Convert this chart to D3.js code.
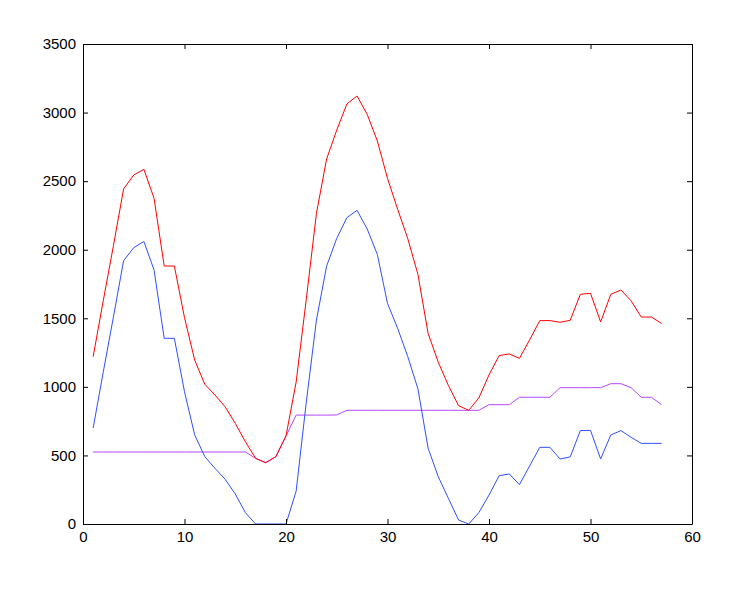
<!DOCTYPE html>
<html>
<head>
<meta charset="utf-8">
<script src="https://cdn.jsdelivr.net/npm/d3@7"></script>
<style>
  html, body { margin: 0; padding: 0; background: #fff; }
  svg { display: block; }
  .axis text { font-family: "Liberation Sans", Arial, sans-serif; font-size: 15px; fill: #000; }
  .axis path, .axis line { stroke: #000; }
</style>
</head>
<body>
<div id="chart"></div>
<script>
const xs = d3.range(1, 58);
const redValues = [1220,1630,2030,2443,2545,2586,2375,1881,1881,1505,
  1196,1019,941,855,734,600,479,447,491,642,
  1035,1640,2265,2661,2873,3063,3121,2987,2793,2520,
  2295,2080,1820,1390,1180,1010,863,829,919,1087,
  1228,1240,1208,1342,1483,1483,1471,1485,1675,1682,
  1473,1675,1706,1628,1509,1509,1463];
const blueValues = [700,1110,1510,1920,2015,2060,1852,1354,1354,965,
  650,491,406,326,219,83,0,0,0,0,
  240,890,1487,1880,2083,2234,2287,2151,1965,1609,
  1427,1220,985,553,345,187,29,0,83,211,
  352,365,287,423,559,559,474,489,681,683,
  474,649,681,632,588,588,588];
const purpleValues = [525,525,525,525,525,525,525,525,525,525,
  525,525,525,525,525,525,479,447,491,642,
  794,794,794,794,795,829,829,829,829,829,
  829,829,829,829,829,829,829,829,829,870,
  870,870,924,924,924,924,994,994,994,994,
  994,1023,1023,994,924,924,870];
const xTicks = [0,10,20,30,40,50,60];
const yTicks = [0,500,1000,1500,2000,2500,3000,3500];

const W = 747, H = 595;
const margin = {top: 44, right: 55, bottom: 71, left: 83};
const svg = d3.select("#chart").append("svg").attr("width", W).attr("height", H);
svg.append("rect").attr("width", W).attr("height", H).attr("fill", "#fff");

const x = d3.scaleLinear().domain([0, 60]).range([margin.left, W - margin.right]);
const y = d3.scaleLinear().domain([0, 3500]).range([H - margin.bottom, margin.top]);

const series = [
  {vals: purpleValues, color: "#b845ff"},
  {vals: blueValues, color: "#2f50ff"},
  {vals: redValues, color: "#ff0000"}
];
const line = d3.line().x(d => x(d[0])).y(d => y(d[1]));
series.forEach(s => {
  svg.append("path")
    .datum(xs.map((v, i) => [v, s.vals[i]]))
    .attr("fill", "none")
    .attr("stroke", s.color)
    .attr("stroke-width", 1)
    .attr("d", line);
});

const tk = 5;
svg.append("g").attr("class", "axis")
  .attr("transform", `translate(0,${H - margin.bottom})`)
  .call(d3.axisBottom(x).tickValues(xTicks).tickSize(-tk).tickSizeOuter(0).tickPadding(7).tickFormat(d3.format("d")));
svg.append("g").attr("class", "axis")
  .attr("transform", `translate(0,${margin.top})`)
  .call(d3.axisTop(x).tickValues(xTicks).tickSize(-tk).tickSizeOuter(0).tickFormat(""));
svg.append("g").attr("class", "axis")
  .attr("transform", `translate(${margin.left},0)`)
  .call(d3.axisLeft(y).tickValues(yTicks).tickSize(-tk).tickSizeOuter(0).tickPadding(7).tickFormat(d3.format("d")));
svg.append("g").attr("class", "axis")
  .attr("transform", `translate(${W - margin.right},0)`)
  .call(d3.axisRight(y).tickValues(yTicks).tickSize(-tk).tickSizeOuter(0).tickFormat(""));
</script>
</body>
</html>
